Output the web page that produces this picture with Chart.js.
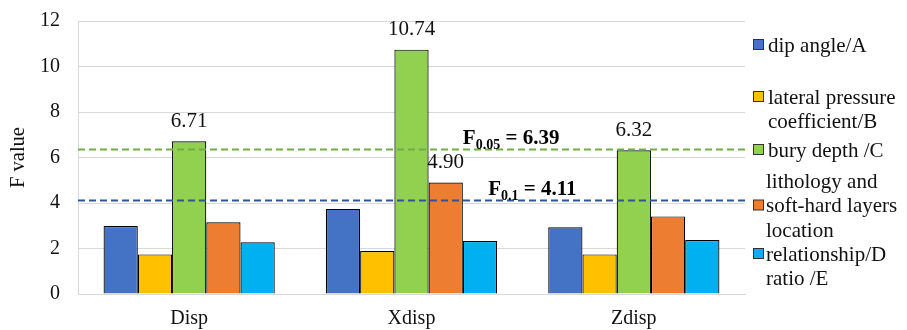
<!DOCTYPE html>
<html>
<head>
<meta charset="utf-8">
<script src="https://cdn.jsdelivr.net/npm/chart.js@4/dist/chart.umd.min.js"></script>
<style>
  html, body { margin: 0; padding: 0; background: #fff; }
  #wrap { width: 907px; height: 330px; position: relative; }
</style>
</head>
<body>
<div id="wrap"><canvas id="c" width="907" height="330"></canvas></div>
<script>
// Factor categories and F values per factor
const categories = ['Disp', 'Xdisp', 'Zdisp'];
const dipAngle = [2.99, 3.74, 2.93];
const lateralPressure = [1.74, 1.89, 1.74];
const buryDepth = [6.71, 10.74, 6.32];
const lithology = [3.15, 4.90, 3.41];
const ratioE = [2.27, 2.33, 2.37];

// Critical F values (significance level, value)
const critLevels = ['0.05', '0.1'];
const critValues = [6.39, 4.11];

const yTickValues = [0, 2, 4, 6, 8, 10, 12];

// Bars that carry a value label: [datasetIndex, categoryIndex]
const labelledBars = [[2, 0], [2, 1], [3, 1], [2, 2]];

// Legend text, one array of lines per series, plus the line the swatch sits on
const legendLines = [
  ['dip angle/A'],
  ['lateral pressure', 'coefficient/B'],
  ['bury depth /C'],
  ['lithology and', 'soft-hard layers', 'location'],
  ['relationship/D', 'ratio /E']
];
const legendSwatchLine = [0, 0, 0, 1, 0];

const seriesColors = ['#4472C4', '#FFC000', '#92D050', '#ED7D31', '#00B0F0'];
const critColors = ['#70AD47', '#2F5597'];
const FONT = '"Liberation Serif", "Times New Roman", serif';

const seriesData = [dipAngle, lateralPressure, buryDepth, lithology, ratioE];

const overlay = {
  id: 'overlay',
  afterDatasetsDraw(chart) {
    const ctx = chart.ctx;
    const area = chart.chartArea;
    const y = chart.scales.y;

    // critical value dashed lines
    ctx.save();
    ctx.lineWidth = 2;
    ctx.setLineDash([7, 4]);
    critValues.forEach((v, i) => {
      const py = Math.round(y.getPixelForValue(v)) + 0.5;
      ctx.strokeStyle = critColors[i];
      ctx.beginPath();
      ctx.moveTo(area.left, py);
      ctx.lineTo(area.right, py);
      ctx.stroke();
    });
    ctx.restore();

    // value labels above bars
    ctx.save();
    ctx.fillStyle = '#111';
    ctx.font = '21px ' + FONT;
    ctx.textAlign = 'center';
    ctx.textBaseline = 'middle';
    labelledBars.forEach(([d, i]) => {
      const bar = chart.getDatasetMeta(d).data[i];
      ctx.fillText(seriesData[d][i].toFixed(2), bar.x, bar.y - 20);
    });
    ctx.restore();

    // critical value captions
    const w = area.right - area.left;
    const capX = [area.left + w * 0.577, area.left + w * 0.615];
    ctx.save();
    ctx.fillStyle = '#000';
    ctx.textBaseline = 'alphabetic';
    ctx.textAlign = 'left';
    critValues.forEach((v, i) => {
      const base = y.getPixelForValue(v) - 5;
      let x = capX[i];
      ctx.font = 'bold 21px ' + FONT;
      ctx.fillText('F', x, base);
      x += ctx.measureText('F').width;
      ctx.font = 'bold 14px ' + FONT;
      ctx.fillText(critLevels[i], x, base + 5);
      x += ctx.measureText(critLevels[i]).width;
      ctx.font = 'bold 21px ' + FONT;
      ctx.fillText(' = ' + v.toFixed(2), x, base);
    });
    ctx.restore();
  },
  afterDraw(chart) {
    const ctx = chart.ctx;
    const area = chart.chartArea;
    // legend
    const lineH = 24.5;
    const firstLines = [45, 97, 150, 181, 254];
    ctx.save();
    ctx.font = '21px ' + FONT;
    ctx.textBaseline = 'middle';
    ctx.textAlign = 'left';
    legendLines.forEach((lines, s) => {
      const top = firstLines[s];
      const textX = area.right + (s >= 3 ? 21 : 23);
      lines.forEach((t, k) => {
        ctx.fillStyle = '#111';
        ctx.fillText(t, textX, top + k * lineH + 1);
      });
      const sy = top + legendSwatchLine[s] * lineH;
      ctx.fillStyle = seriesColors[s];
      ctx.fillRect(area.right + 8.5, sy - 5.5, 10, 10);
      ctx.strokeStyle = '#333';
      ctx.lineWidth = 1;
      ctx.strokeRect(area.right + 8.5, sy - 5.5, 10, 10);
    });
    ctx.restore();

    // y axis title
    ctx.save();
    ctx.font = '20.5px ' + FONT;
    ctx.fillStyle = '#111';
    ctx.textAlign = 'center';
    ctx.textBaseline = 'middle';
    ctx.translate(19, (area.top + area.bottom) / 2);
    ctx.rotate(-Math.PI / 2);
    ctx.fillText('F value', 0, 0);
    ctx.restore();
  }
};

new Chart(document.getElementById('c'), {
  type: 'bar',
  data: {
    labels: categories,
    datasets: legendLines.map((lines, s) => ({
      label: lines.join(' '),
      data: seriesData[s],
      backgroundColor: seriesColors[s],
      borderColor: '#000',
      borderWidth: 1.2,
      inflateAmount: 0,
      categoryPercentage: 0.77,
      barPercentage: 1.0
    }))
  },
  options: {
    responsive: false,
    animation: false,
    events: [],
    layout: { padding: { top: 21, right: 162, left: 0, bottom: 0 } },
    plugins: { legend: { display: false }, tooltip: { enabled: false } },
    scales: {
      x: {
        grid: { display: false, drawTicks: false },
        border: { display: true, color: '#d9d9d9' },
        ticks: { color: '#111', font: { family: FONT, size: 20 }, padding: 13 },
        afterFit(s) { s.height = 36; s.paddingLeft = 0; s.paddingRight = 0; }
      },
      y: {
        min: 0,
        max: 12,
        afterBuildTicks(s) { s.ticks = yTickValues.map(v => ({ value: v })); },
        grid: { color: '#d9d9d9', lineWidth: 1, drawTicks: false },
        border: { display: true, color: '#d9d9d9' },
        ticks: { color: '#111', font: { family: FONT, size: 20 }, padding: 18 },
        afterFit(s) { s.width = 78; s.paddingTop = 0; s.paddingBottom = 0; }
      }
    }
  },
  plugins: [overlay]
});
</script>
</body>
</html>
